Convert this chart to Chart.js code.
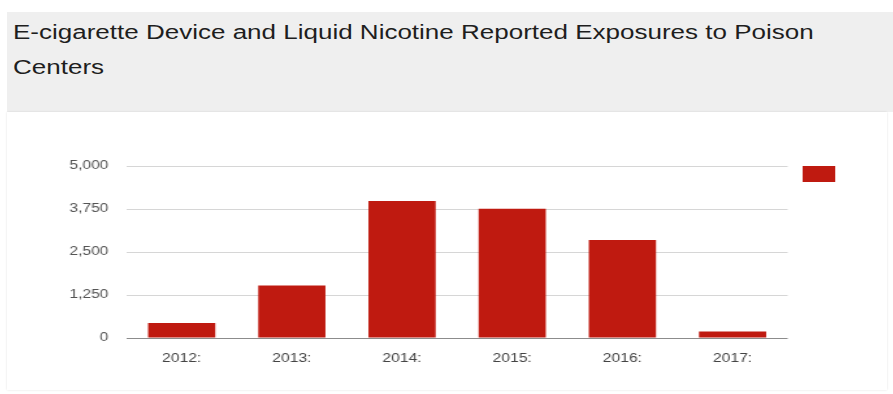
<!DOCTYPE html>
<html>
<head>
<meta charset="utf-8">
<script src="https://cdn.jsdelivr.net/npm/chart.js@4/dist/chart.umd.min.js"></script>
<style>
    html, body { margin: 0; padding: 0; background: #fff; }
    body { width: 893px; height: 394px; position: relative; overflow: hidden; font-family: "Liberation Sans", Arial, sans-serif; }
    .header {
        position: absolute; left: 7px; top: 12px; width: 886px; height: 100px;
        background: #efefef;
    }
    /* texte étiré en largeur, comme le reste du graphique */
    .header h1 {
        margin: 0; position: absolute; left: 6px; top: 3px; width: 660px;
        font-size: 20px; font-weight: normal; line-height: 35px; color: #1e1e1e;
        transform: scaleX(1.3); transform-origin: 0 0;
    }
    .panel {
        position: absolute; left: 7px; top: 112px; width: 880px; height: 278px;
        background: #fff; box-shadow: 0 0 2px rgba(0,0,0,0.12);
    }
    .panel canvas { transform: scaleX(1.3); transform-origin: 0 0; }
</style>
</head>
<body>
<div class="header">
    <h1>E-cigarette Device and Liquid Nicotine Reported Exposures to Poison Centers</h1>
</div>
<div class="panel">
    <canvas id="exposures-chart" width="677" height="278"></canvas>
</div>
<script>
// Années et nombre d'expositions signalées
const years = ['2012:', '2013:', '2014:', '2015:', '2016:', '2017:'];
const exposures = [435, 1525, 3980, 3760, 2850, 190];
const yTicks = [0, 1250, 2500, 3750, 5000];

const barColor = '#bf1a10';
const legendPadding = 11.5;

// Remonte la légende au niveau du haut de la zone du graphique
const legendNudge = {
    id: 'legendNudge',
    afterLayout(chart) {
        if (chart.legend) {
            chart.legend.top = chart.chartArea.top - legendPadding;
        }
    }
};

const ctx = document.getElementById('exposures-chart');
new Chart(ctx, {
    type: 'bar',
    data: {
        labels: years,
        datasets: [{
            label: '',
            data: exposures,
            backgroundColor: barColor,
            borderWidth: 0,
            barPercentage: 0.61,
            categoryPercentage: 1
        }]
    },
    options: {
        responsive: false,
        animation: false,
        layout: {
            padding: { top: 54, right: 24, bottom: 22, left: 0 }
        },
        scales: {
            x: {
                grid: { display: false, drawTicks: false },
                border: { display: false },
                ticks: {
                    padding: 13,
                    color: '#444',
                    font: { size: 12, family: '"Liberation Sans", Arial, sans-serif' }
                },
                afterFit(scale) { scale.height = 30; }
            },
            y: {
                min: 0,
                max: 5000,
                afterBuildTicks(scale) {
                    scale.ticks = yTicks.map(v => ({ value: v }));
                },
                grid: {
                    drawTicks: false,
                    color: c => c.tick && c.tick.value === 0 ? '#8c8c8c' : '#d6d6d6'
                },
                border: { display: false },
                ticks: {
                    padding: 14,
                    color: '#555',
                    font: { size: 12, family: '"Liberation Sans", Arial, sans-serif' },
                    callback: v => v.toLocaleString('en-US')
                },
                afterFit(scale) { scale.width = 92; }
            }
        },
        plugins: {
            legend: {
                position: 'right',
                align: 'start',
                fullSize: false,
                labels: {
                    boxWidth: 25,
                    boxHeight: 16,
                    padding: legendPadding
                }
            },
            tooltip: { enabled: false }
        }
    },
    plugins: [legendNudge]
});
</script>
</body>
</html>
